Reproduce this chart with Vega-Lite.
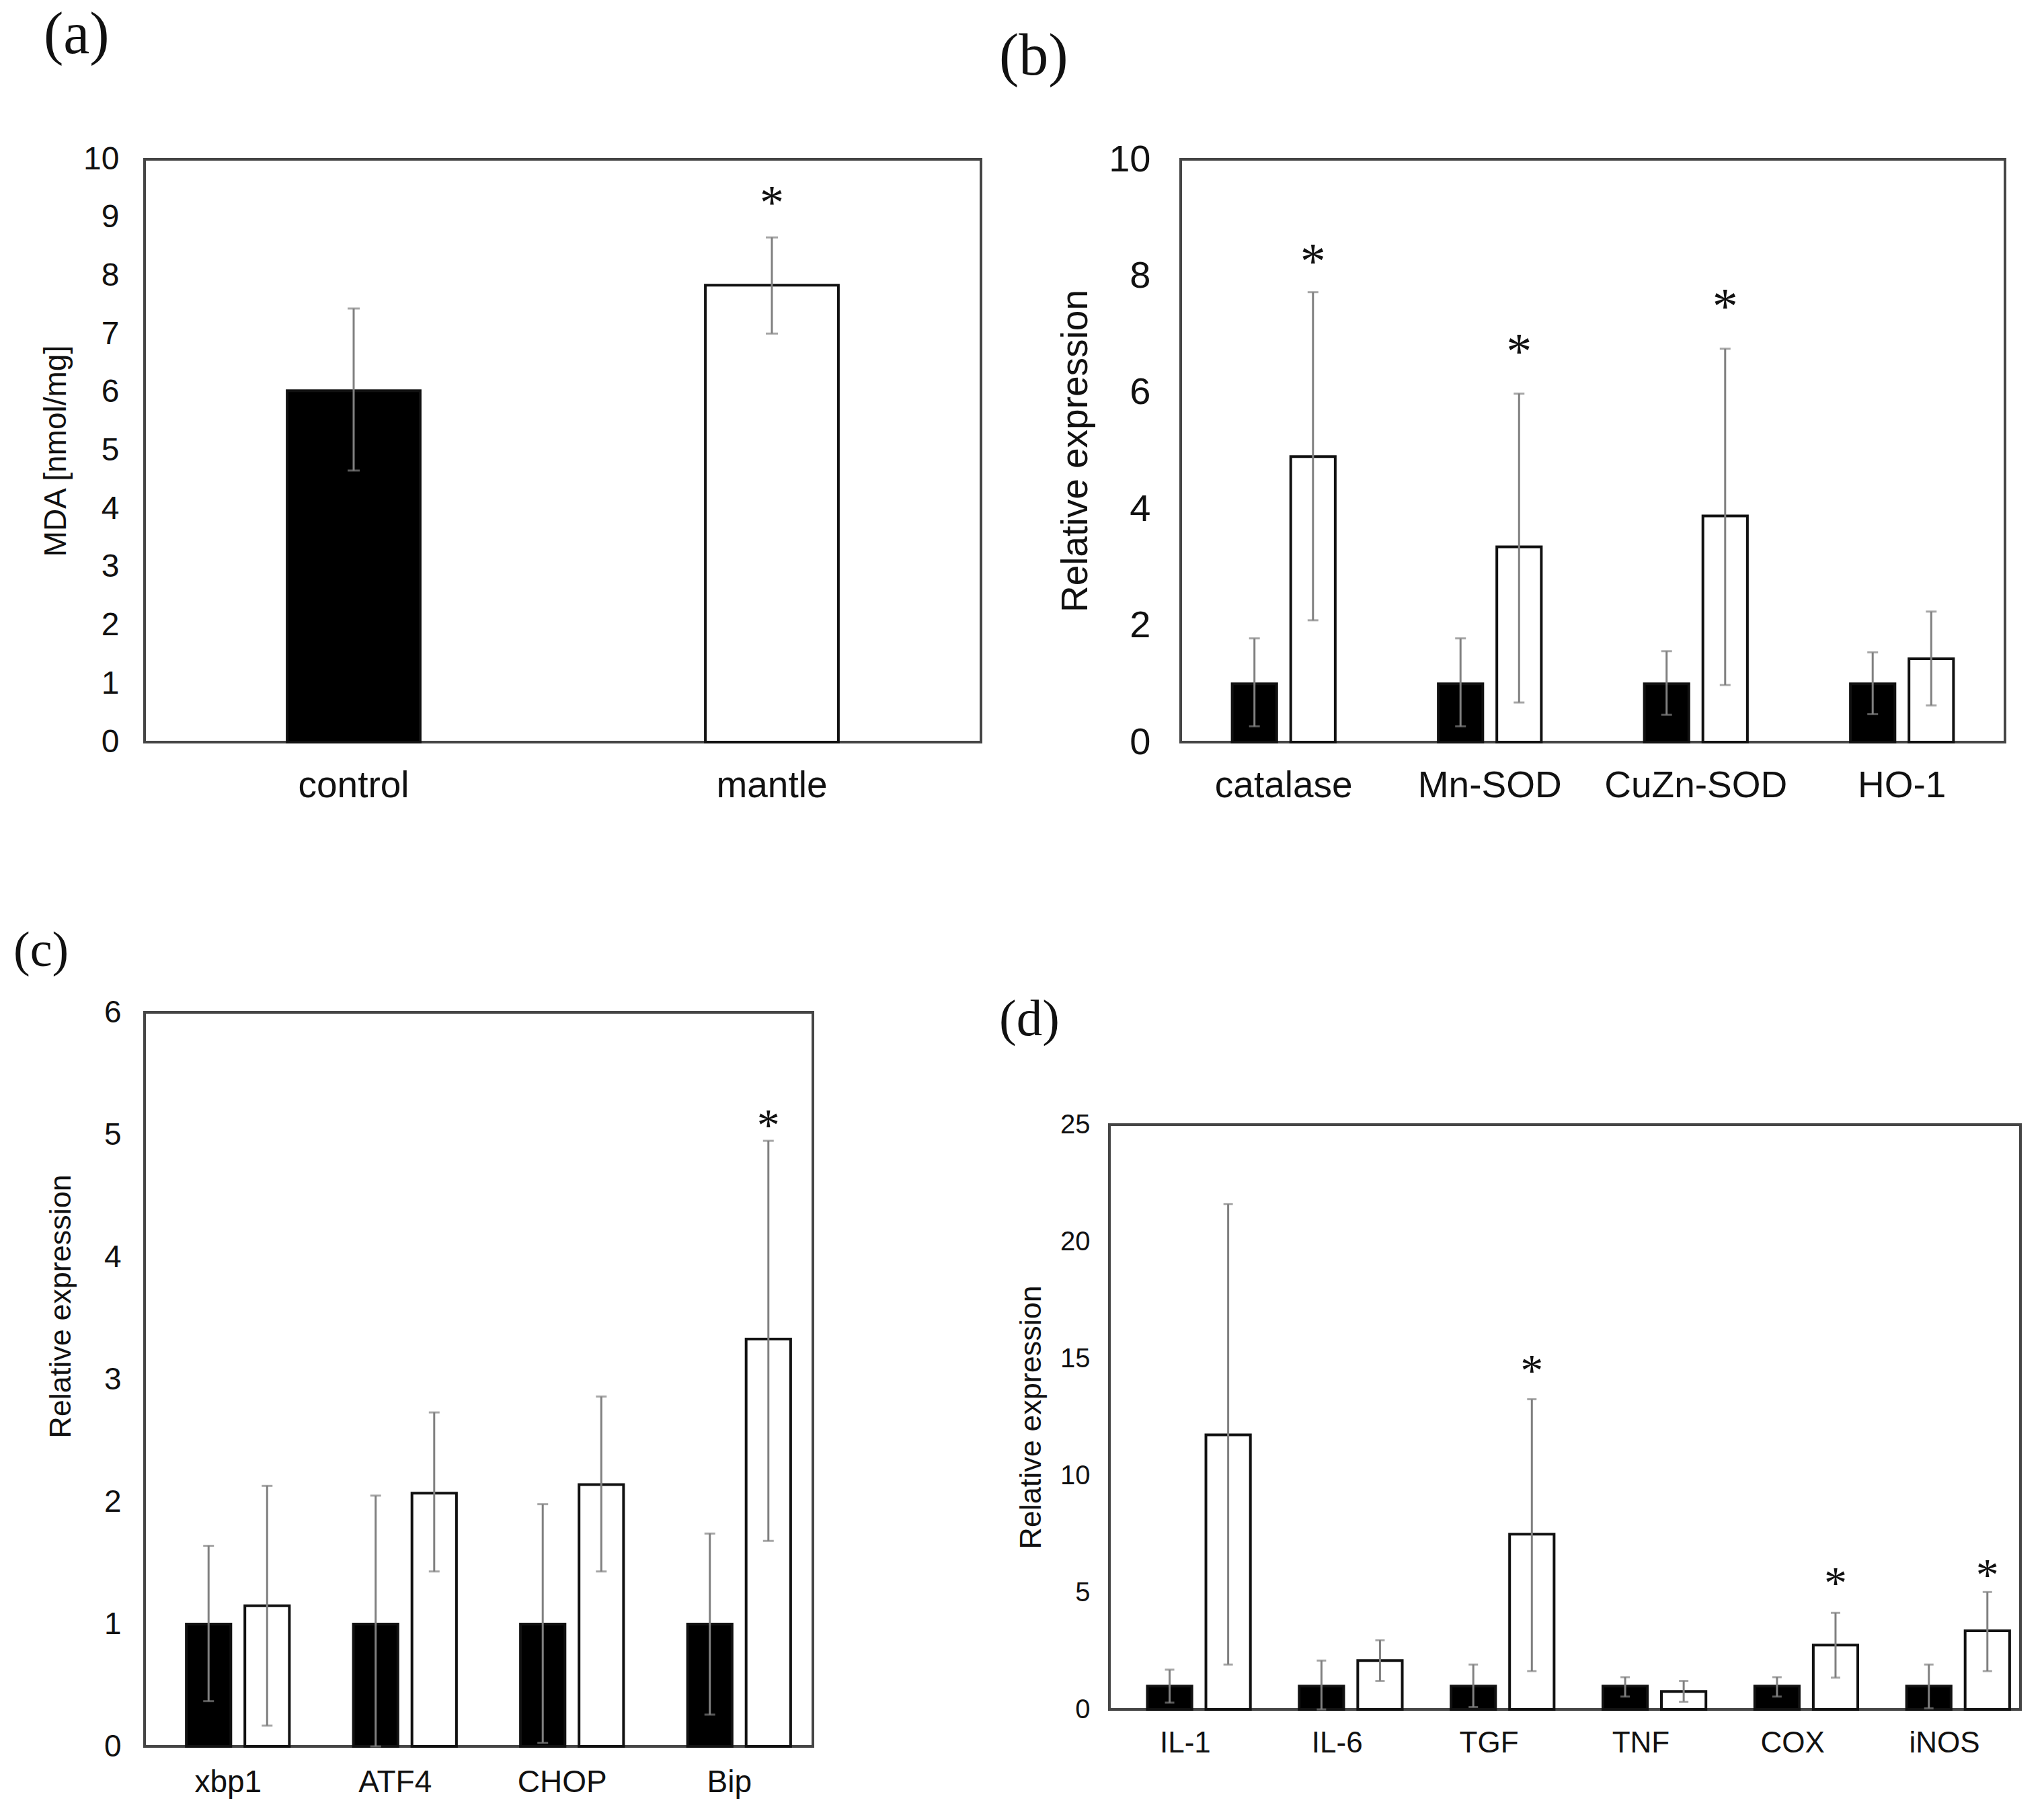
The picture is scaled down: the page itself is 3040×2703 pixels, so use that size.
{
  "$schema": "https://vega.github.io/schema/vega-lite/v6.json",
  "padding": {"left": 18, "top": 7, "right": 0, "bottom": 0},
  "background": "white",
  "columns": 2,
  "align": "none",
  "bounds": "full",
  "spacing": {"row": 178, "column": 23},
  "config": {
    "view": {"stroke": "#454545", "strokeWidth": 4},
    "axis": {"domain": false, "ticks": false, "tickSize": 0, "grid": false, "labelFont": "Liberation Sans", "titleFont": "Liberation Sans", "labelColor": "#111111", "titleColor": "#111111", "titleFontWeight": "normal", "labelAngle": 0, "labelLimit": 1000},
    "title": {"font": "Liberation Serif", "fontWeight": "normal", "color": "#111111", "anchor": "start", "frame": "group"}
  },
  "datasets": {
    "a": [
      {"group": "control", "value": 6.03, "lo": 4.66, "hi": 7.44, "star": null},
      {"group": "mantle", "value": 7.84, "lo": 7.01, "hi": 8.66, "star": 9.38}
    ],
    "b": [
      {"gene": "catalase", "group": "control", "value": 1.0, "lo": 0.27, "hi": 1.78, "star": null},
      {"gene": "catalase", "group": "mantle", "value": 4.9, "lo": 2.09, "hi": 7.72, "star": 8.37},
      {"gene": "Mn-SOD", "group": "control", "value": 1.0, "lo": 0.27, "hi": 1.78, "star": null},
      {"gene": "Mn-SOD", "group": "mantle", "value": 3.35, "lo": 0.68, "hi": 5.98, "star": 6.83},
      {"gene": "CuZn-SOD", "group": "control", "value": 1.0, "lo": 0.47, "hi": 1.56, "star": null},
      {"gene": "CuZn-SOD", "group": "mantle", "value": 3.88, "lo": 0.98, "hi": 6.75, "star": 7.6},
      {"gene": "HO-1", "group": "control", "value": 1.0, "lo": 0.48, "hi": 1.54, "star": null},
      {"gene": "HO-1", "group": "mantle", "value": 1.43, "lo": 0.63, "hi": 2.24, "star": null}
    ],
    "c": [
      {"gene": "xbp1", "group": "control", "value": 1.0, "lo": 0.37, "hi": 1.64, "star": null},
      {"gene": "xbp1", "group": "mantle", "value": 1.15, "lo": 0.17, "hi": 2.13, "star": null},
      {"gene": "ATF4", "group": "control", "value": 1.0, "lo": 0.0, "hi": 2.05, "star": null},
      {"gene": "ATF4", "group": "mantle", "value": 2.07, "lo": 1.43, "hi": 2.73, "star": null},
      {"gene": "CHOP", "group": "control", "value": 1.0, "lo": 0.03, "hi": 1.98, "star": null},
      {"gene": "CHOP", "group": "mantle", "value": 2.14, "lo": 1.43, "hi": 2.86, "star": null},
      {"gene": "Bip", "group": "control", "value": 1.0, "lo": 0.26, "hi": 1.74, "star": null},
      {"gene": "Bip", "group": "mantle", "value": 3.33, "lo": 1.68, "hi": 4.95, "star": 5.13}
    ],
    "d": [
      {"gene": "IL-1", "group": "control", "value": 1.0, "lo": 0.29, "hi": 1.7, "star": null},
      {"gene": "IL-1", "group": "mantle", "value": 11.74, "lo": 1.92, "hi": 21.6, "star": null},
      {"gene": "IL-6", "group": "control", "value": 1.0, "lo": 0.0, "hi": 2.09, "star": null},
      {"gene": "IL-6", "group": "mantle", "value": 2.09, "lo": 1.22, "hi": 2.96, "star": null},
      {"gene": "TGF", "group": "control", "value": 1.0, "lo": 0.1, "hi": 1.92, "star": null},
      {"gene": "TGF", "group": "mantle", "value": 7.49, "lo": 1.64, "hi": 13.26, "star": 14.77},
      {"gene": "TNF", "group": "control", "value": 1.0, "lo": 0.55, "hi": 1.38, "star": null},
      {"gene": "TNF", "group": "mantle", "value": 0.77, "lo": 0.33, "hi": 1.22, "star": null},
      {"gene": "COX", "group": "control", "value": 1.0, "lo": 0.55, "hi": 1.38, "star": null},
      {"gene": "COX", "group": "mantle", "value": 2.75, "lo": 1.36, "hi": 4.13, "star": 5.68},
      {"gene": "iNOS", "group": "control", "value": 1.0, "lo": 0.05, "hi": 1.92, "star": null},
      {"gene": "iNOS", "group": "mantle", "value": 3.36, "lo": 1.64, "hi": 5.02, "star": 6.03}
    ]
  },
  "concat": [
    {
      "width": 1244, "height": 867,
      "title": {"text": "(a)", "fontSize": 88, "offset": 116, "dx": -150},
      "data": {"name": "a"},
      "encoding": {
        "x": {"field": "group", "type": "nominal", "sort": ["control", "mantle"], "scale": {"paddingInner": 0.682, "paddingOuter": 0.341}, "axis": {"title": null, "labelFontSize": 55, "labelPadding": 38}}
      },
      "layer": [
        {"mark": {"type": "bar", "stroke": "#111111", "strokeWidth": 4},
         "encoding": {
           "y": {"field": "value", "type": "quantitative", "title": "MDA [nmol/mg]", "scale": {"domain": [0, 10], "nice": false}, "axis": {"values": [0,1,2,3,4,5,6,7,8,9,10], "format": "d", "labelFontSize": 48, "labelPadding": 38, "titleFontSize": 46, "titleX": -108, "titleAngle": 270, "titleBaseline": "bottom"}},
           "fill": {"field": "group", "type": "nominal", "scale": {"domain": ["control", "mantle"], "range": ["#000000", "#ffffff"]}, "legend": null}}},
        {"mark": {"type": "rule", "color": "#808080", "strokeWidth": 3},
         "encoding": {"y": {"field": "lo", "type": "quantitative", "title": "MDA [nmol/mg]"}, "y2": {"field": "hi"}}},
        {"mark": {"type": "tick", "color": "#808080", "thickness": 3, "size": 18},
         "encoding": {"y": {"field": "hi", "type": "quantitative", "title": "MDA [nmol/mg]"}}},
        {"mark": {"type": "tick", "color": "#808080", "thickness": 3, "size": 18},
         "encoding": {"y": {"field": "lo", "type": "quantitative", "title": "MDA [nmol/mg]"}}},
        {"transform": [{"filter": "datum.star != null"}],
         "mark": {"type": "text", "text": "*", "font": "Liberation Serif", "fontSize": 72, "baseline": "alphabetic", "dy": 34, "color": "#111111"},
         "encoding": {"y": {"field": "star", "type": "quantitative", "title": "MDA [nmol/mg]"}}}
      ]
    },
    {
      "width": 1226, "height": 867,
      "title": {"text": "(b)", "fontSize": 88, "offset": 80, "dx": -270},
      "data": {"name": "b"},
      "encoding": {
        "x": {"field": "gene", "type": "nominal", "sort": ["catalase", "Mn-SOD", "CuZn-SOD", "HO-1"], "scale": {"paddingInner": 0.5, "paddingOuter": 0.25}, "axis": {"title": null, "labelFontSize": 55, "labelPadding": 38}},
        "xOffset": {"field": "group", "type": "nominal", "sort": ["control", "mantle"], "scale": {"domain": ["control", "mantle"], "paddingInner": 0.24, "paddingOuter": 0}}
      },
      "layer": [
        {"mark": {"type": "bar", "stroke": "#111111", "strokeWidth": 4},
         "encoding": {
           "y": {"field": "value", "type": "quantitative", "title": "Relative expression", "scale": {"domain": [0, 10], "nice": false}, "axis": {"values": [0,2,4,6,8,10], "format": "d", "labelFontSize": 56, "labelPadding": 45, "titleFontSize": 55, "titleX": -128, "titleAngle": 270, "titleBaseline": "bottom"}},
           "fill": {"field": "group", "type": "nominal", "scale": {"domain": ["control", "mantle"], "range": ["#000000", "#ffffff"]}, "legend": null}}},
        {"mark": {"type": "rule", "color": "#808080", "strokeWidth": 3},
         "encoding": {"y": {"field": "lo", "type": "quantitative", "title": "Relative expression"}, "y2": {"field": "hi"}}},
        {"mark": {"type": "tick", "color": "#808080", "thickness": 3, "size": 16},
         "encoding": {"y": {"field": "hi", "type": "quantitative", "title": "Relative expression"}}},
        {"mark": {"type": "tick", "color": "#808080", "thickness": 3, "size": 16},
         "encoding": {"y": {"field": "lo", "type": "quantitative", "title": "Relative expression"}}},
        {"transform": [{"filter": "datum.star != null"}],
         "mark": {"type": "text", "text": "*", "font": "Liberation Serif", "fontSize": 76, "baseline": "alphabetic", "dy": 36, "color": "#111111"},
         "encoding": {"y": {"field": "star", "type": "quantitative", "title": "Relative expression"}}}
      ]
    },
    {
      "width": 994, "height": 1092,
      "title": {"text": "(c)", "fontSize": 74, "offset": 30, "dx": -195},
      "data": {"name": "c"},
      "encoding": {
        "x": {"field": "gene", "type": "nominal", "sort": ["xbp1", "ATF4", "CHOP", "Bip"], "scale": {"paddingInner": 0.5, "paddingOuter": 0.25}, "axis": {"title": null, "labelFontSize": 46, "labelPadding": 31}},
        "xOffset": {"field": "group", "type": "nominal", "sort": ["control", "mantle"], "scale": {"domain": ["control", "mantle"], "paddingInner": 0.24, "paddingOuter": 0}}
      },
      "layer": [
        {"mark": {"type": "bar", "stroke": "#111111", "strokeWidth": 4},
         "encoding": {
           "y": {"field": "value", "type": "quantitative", "title": "Relative expression", "scale": {"domain": [0, 6], "nice": false}, "axis": {"values": [0,1,2,3,4,5,6], "format": "d", "labelFontSize": 46, "labelPadding": 35, "titleFontSize": 45, "titleX": -102, "titleY": 437, "titleAngle": 270, "titleBaseline": "bottom"}},
           "fill": {"field": "group", "type": "nominal", "scale": {"domain": ["control", "mantle"], "range": ["#000000", "#ffffff"]}, "legend": null}}},
        {"mark": {"type": "rule", "color": "#808080", "strokeWidth": 3},
         "encoding": {"y": {"field": "lo", "type": "quantitative", "title": "Relative expression"}, "y2": {"field": "hi"}}},
        {"mark": {"type": "tick", "color": "#808080", "thickness": 3, "size": 16},
         "encoding": {"y": {"field": "hi", "type": "quantitative", "title": "Relative expression"}}},
        {"mark": {"type": "tick", "color": "#808080", "thickness": 3, "size": 16},
         "encoding": {"y": {"field": "lo", "type": "quantitative", "title": "Relative expression"}}},
        {"transform": [{"filter": "datum.star != null"}],
         "mark": {"type": "text", "text": "*", "font": "Liberation Serif", "fontSize": 68, "baseline": "alphabetic", "dy": 32, "color": "#111111"},
         "encoding": {"y": {"field": "star", "type": "quantitative", "title": "Relative expression"}}}
      ]
    },
    {
      "width": 1355, "height": 870,
      "title": {"text": ["", "(d)"], "fontSize": 77, "lineHeight": 100, "offset": 97, "dx": -164},
      "data": {"name": "d"},
      "encoding": {
        "x": {"field": "gene", "type": "nominal", "sort": ["IL-1", "IL-6", "TGF", "TNF", "COX", "iNOS"], "scale": {"paddingInner": 0.5, "paddingOuter": 0.25}, "axis": {"title": null, "labelFontSize": 44, "labelPadding": 28}},
        "xOffset": {"field": "group", "type": "nominal", "sort": ["control", "mantle"], "scale": {"domain": ["control", "mantle"], "paddingInner": 0.24, "paddingOuter": 0}}
      },
      "layer": [
        {"mark": {"type": "bar", "stroke": "#111111", "strokeWidth": 4},
         "encoding": {
           "y": {"field": "value", "type": "quantitative", "title": "Relative expression", "scale": {"domain": [0, 25], "nice": false}, "axis": {"values": [0,5,10,15,20,25], "format": "d", "labelFontSize": 40, "labelPadding": 29, "titleFontSize": 45, "titleX": -94, "titleAngle": 270, "titleBaseline": "bottom"}},
           "fill": {"field": "group", "type": "nominal", "scale": {"domain": ["control", "mantle"], "range": ["#000000", "#ffffff"]}, "legend": null}}},
        {"mark": {"type": "rule", "color": "#808080", "strokeWidth": 3},
         "encoding": {"y": {"field": "lo", "type": "quantitative", "title": "Relative expression"}, "y2": {"field": "hi"}}},
        {"mark": {"type": "tick", "color": "#808080", "thickness": 3, "size": 14},
         "encoding": {"y": {"field": "hi", "type": "quantitative", "title": "Relative expression"}}},
        {"mark": {"type": "tick", "color": "#808080", "thickness": 3, "size": 14},
         "encoding": {"y": {"field": "lo", "type": "quantitative", "title": "Relative expression"}}},
        {"transform": [{"filter": "datum.star != null"}],
         "mark": {"type": "text", "text": "*", "font": "Liberation Serif", "fontSize": 68, "baseline": "alphabetic", "dy": 32, "color": "#111111"},
         "encoding": {"y": {"field": "star", "type": "quantitative", "title": "Relative expression"}}}
      ]
    }
  ]
}
